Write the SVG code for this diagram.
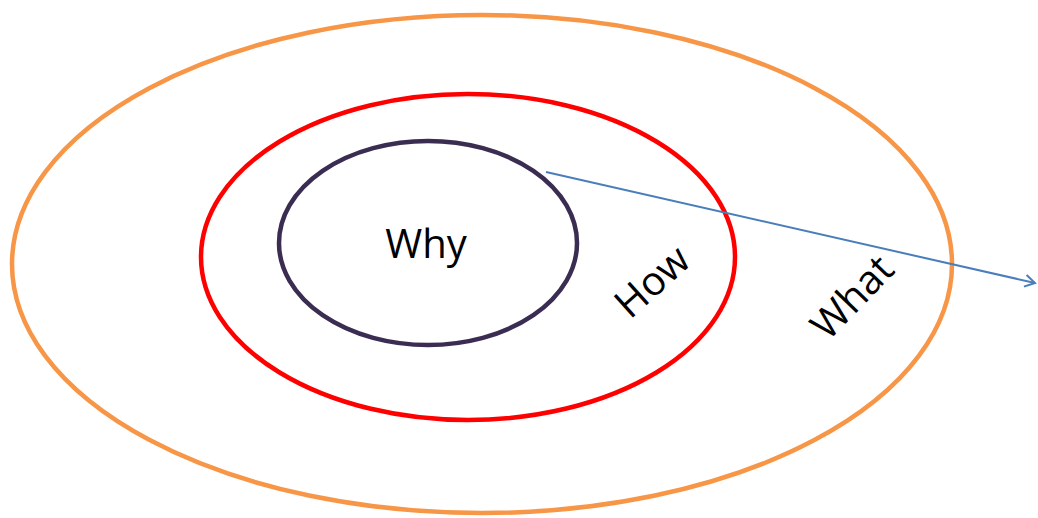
<svg xmlns="http://www.w3.org/2000/svg" width="1038" height="518" viewBox="0 0 1038 518">
<style>
.ring{fill:none;stroke-width:4.5}
.lbl{font-family:"Open Sans","Liberation Sans",sans-serif;font-size:40px;fill:#000}
</style>
<defs>
<marker id="open" markerWidth="14" markerHeight="14" refX="12" refY="7" orient="auto" markerUnits="userSpaceOnUse">
<path d="M2,1 L12,7 L2,13" fill="none" stroke="#4A7EBB" stroke-width="2"/>
</marker>
</defs>
<rect width="1038" height="518" fill="#fff"/>
<g id="what">
<ellipse class="ring" cx="482" cy="264" rx="470" ry="249" stroke="#F79646"/>
<text class="lbl" transform="translate(828,342) rotate(-46)">What</text>
</g>
<g id="how">
<ellipse class="ring" cx="468" cy="257" rx="267" ry="163" stroke="#FF0000"/>
<text class="lbl" transform="translate(630,320) rotate(-42)">How</text>
</g>
<g id="why">
<ellipse class="ring" cx="428" cy="243" rx="149" ry="102" stroke="#3B2D52"/>
<text class="lbl" x="426" y="258" text-anchor="middle">Why</text>
</g>
<g id="connectors">
<line x1="546" y1="172" x2="1035" y2="283" stroke="#4A7EBB" stroke-width="2" marker-end="url(#open)"/>
</g>
</svg>
